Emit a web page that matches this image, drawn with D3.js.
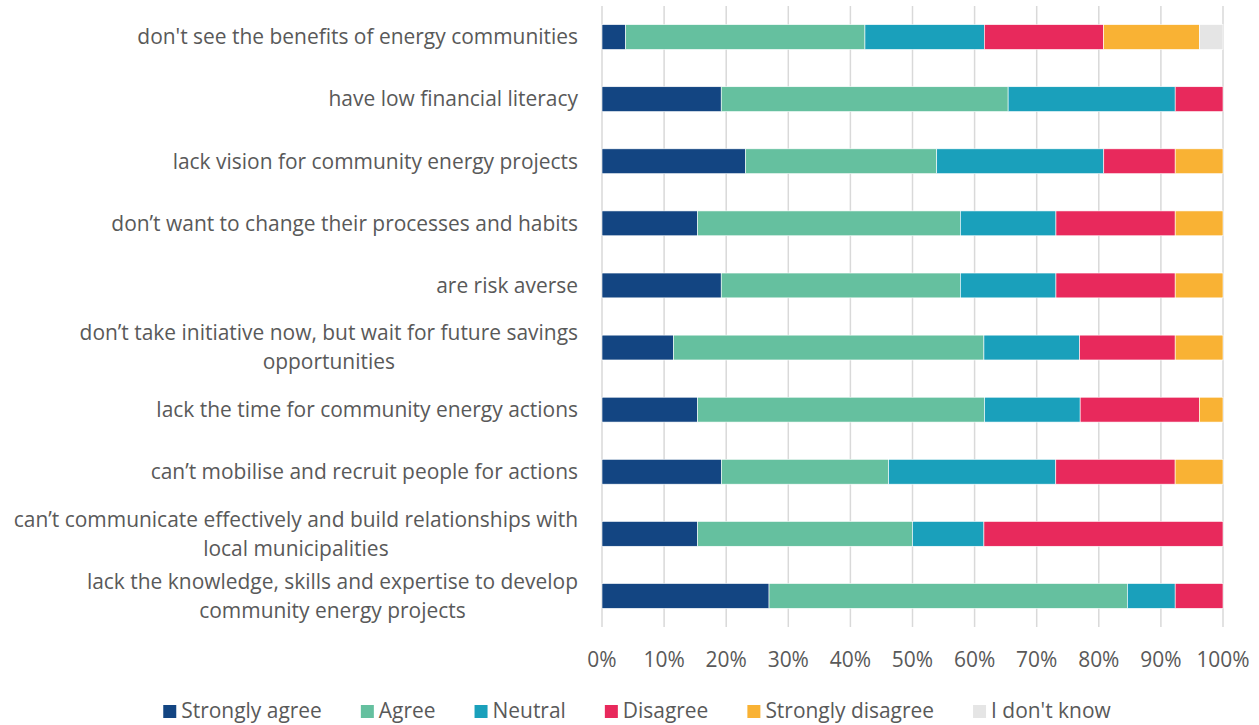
<!DOCTYPE html>
<html>
<head>
<meta charset="utf-8">
<script src="https://cdn.jsdelivr.net/npm/d3@7"></script>
<style>
  body { margin: 0; background: #fff; }
  text { font-family: "Open Sans", Lato, sans-serif; fill: #595959; }
</style>
</head>
<body>
<div class="module"></div>
<script>
// categories, top to bottom (multi-line labels as arrays)
const categories = [
	["don't see the benefits of energy communities"],
	["have low financial literacy "],
	["lack vision for community energy projects"],
	["don\u2019t want to change their processes and habits"],
	["are risk averse"],
	["don\u2019t take initiative now, but wait for future savings", "opportunities"],
	["lack the time for community energy actions"],
	["can\u2019t mobilise and recruit people for actions"],
	["can\u2019t communicate effectively and build relationships with", "local municipalities"],
	["lack the knowledge, skills and expertise to develop", "community energy projects"]
];

const seriesNames = ["Strongly agree", "Agree", "Neutral", "Disagree", "Strongly disagree", "I don't know"];
const seriesColors = ["#134582", "#65c09f", "#1aa0bb", "#e8295c", "#f9b234", "#e5e5e5"];

// share of answers, %
const stronglyAgree    = [3.8, 19.2, 23.1, 15.4, 19.2, 11.5, 15.4, 19.2, 15.4, 26.9];
const agree            = [38.5, 46.2, 30.8, 42.3, 38.5, 50.0, 46.2, 26.9, 34.6, 57.7];
const neutral          = [19.2, 26.9, 26.9, 15.4, 15.4, 15.4, 15.4, 26.9, 11.5, 7.7];
const disagree         = [19.2, 7.7, 11.5, 19.2, 19.2, 15.4, 19.2, 19.2, 38.5, 7.7];
const stronglyDisagree = [15.4, 0, 7.7, 7.7, 7.7, 7.7, 3.8, 7.7, 0, 0];
const dontKnow         = [3.8, 0, 0, 0, 0, 0, 0, 0, 0, 0];

const xTicks = [0, 0.1, 0.2, 0.3, 0.4, 0.5, 0.6, 0.7, 0.8, 0.9, 1];

const seriesValues = [stronglyAgree, agree, neutral, disagree, stronglyDisagree, dontKnow];

const table = categories.map((c, i) => {
	const row = { idx: i };
	seriesNames.forEach((s, j) => row[s] = seriesValues[j][i]);
	return row;
});

drawChart(d3.select('.module').node(), table);

function drawChart(rootDOM, data) {
	const W = 1259;
	const H = 725;
	const left = 602, right = 1223, top = 6, bottom = 627;

	const svg = d3.select(rootDOM)
		.append('svg')
		.attr('width', W)
		.attr('height', H);

	// size the font so the first label is as wide as in the original (~441px)
	const probe = svg.append('text').style('font-size', '20px').text(categories[0][0]);
	const fontSize = 20 * 441 / probe.node().getComputedTextLength();
	probe.remove();

	const x = d3.scaleLinear().domain([0, 1]).range([left, right]);
	const y = d3.scaleBand().domain(d3.range(categories.length)).range([top, bottom]).paddingInner(0.6).paddingOuter(0.3);

	const stack = d3.stack()
		.keys(seriesNames)
		.offset(d3.stackOffsetExpand);
	const layers = stack(data);

	// gridlines
	svg.append('g')
		.selectAll('line')
		.data(xTicks)
		.join('line')
		.attr('x1', d => x(d)).attr('x2', d => x(d))
		.attr('y1', top).attr('y2', bottom)
		.style('stroke', '#d9d9d9')
		.style('stroke-width', '1.5px');

	// bars
	svg.append('g')
		.selectAll('g')
		.data(layers)
		.join('g')
		.style('fill', (d, i) => seriesColors[i])
		.selectAll('rect')
		.data(d => d.filter(p => p[1] - p[0] > 0))
		.join('rect')
		.attr('x', d => x(d[0]))
		.attr('width', d => x(d[1]) - x(d[0]))
		.attr('y', d => y(d.data.idx))
		.attr('height', y.bandwidth())
		.style('stroke', '#fff')
		.style('stroke-width', '0.6px');

	// category labels
	const lineH = 29;
	const labels = svg.append('g')
		.selectAll('text')
		.data(categories)
		.join('text')
		.style('font-size', fontSize + 'px')
		.attr('text-anchor', 'middle');
	labels.each(function(lines, i) {
		const t = d3.select(this);
		const cy = y(i) + y.bandwidth() / 2;
		const y0 = cy - (lines.length - 1) * lineH / 2;
		lines.forEach((l, k) => {
			t.append('tspan').attr('y', y0 + k * lineH).attr('dy', '0.35em').text(l);
		});
		let w = 0;
		t.selectAll('tspan').each(function() { w = Math.max(w, this.getComputedTextLength()); });
		t.selectAll('tspan').attr('x', 578 - w / 2);
	});

	// x axis labels
	svg.append('g')
		.selectAll('text')
		.data(xTicks)
		.join('text')
		.attr('x', d => x(d))
		.attr('y', 660)
		.attr('dy', '0.35em')
		.attr('text-anchor', 'middle')
		.style('font-size', fontSize + 'px')
		.text(d3.format('.0%'));

	// legend
	const legend = svg.append('g');
	const items = legend.selectAll('g')
		.data(seriesNames)
		.join('g');
	items.append('rect')
		.attr('width', 13).attr('height', 13)
		.attr('y', 705)
		.style('fill', (d, i) => seriesColors[i]);
	items.append('text')
		.attr('x', 18)
		.attr('y', 711)
		.attr('dy', '0.35em')
		.style('font-size', fontSize + 'px')
		.text(d => d);
	let pos = 0;
	const offsets = [];
	items.each(function() {
		offsets.push(pos);
		pos += this.getBBox().width + 39;
	});
	const totalW = pos - 39;
	const startX = 637 - totalW / 2;
	items.attr('transform', (d, i) => `translate(${startX + offsets[i]},0)`);
}
</script>
</body>
</html>
